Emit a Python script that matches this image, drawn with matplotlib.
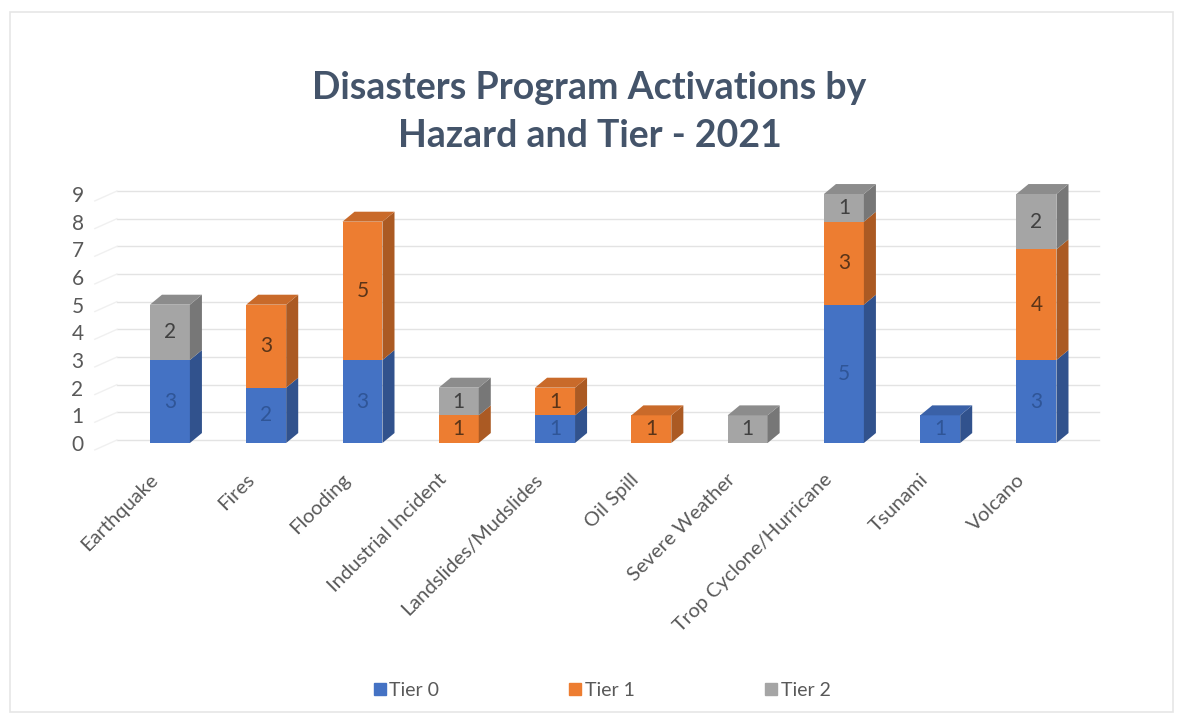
import numpy as np
import matplotlib.pyplot as plt
from matplotlib.patches import Polygon, Rectangle
from matplotlib.lines import Line2D
import matplotlib.transforms as mtransforms
from matplotlib.colors import to_rgb

plt.rcParams['font.family'] = ['Lato', 'DejaVu Sans']

categories = ['Earthquake', 'Fires', 'Flooding', 'Industrial Incident', 'Landslides/Mudslides',
              'Oil Spill', 'Severe Weather', 'Trop Cyclone/Hurricane', 'Tsunami', 'Volcano']
tier0 = [3, 2, 3, 0, 1, 0, 0, 5, 1, 3]
tier1 = [0, 3, 5, 1, 1, 1, 0, 3, 0, 4]
tier2 = [2, 0, 0, 1, 0, 0, 1, 1, 0, 2]
series = [('Tier 0', tier0, '#4472C4', '#2F5597'),
          ('Tier 1', tier1, '#ED7D31', '#5A3418'),
          ('Tier 2', tier2, '#A5A5A5', '#404040')]

def shade(c, f):
    r, g, b = to_rgb(c)
    return (r * f, g * f, b * f)

fig = plt.figure(figsize=(11.79, 7.17), dpi=100)
ax = fig.add_axes([0.0992, 1 - 443 / 717, 0.833, (443 - 194) / 717])

x = np.arange(len(categories))
w = 0.415
ddx, ddy = 0.125, 0.36

for yv in range(0, 10):
    ax.plot([-0.55, 9.65], [yv + ddy * 0.3, yv + ddy * 0.3], color='#E3E3E3', lw=1, zorder=0, clip_on=False)
    ax.plot([-0.78, -0.55], [yv - 0.25, yv + ddy * 0.3], color='#F0F0F0', lw=1, zorder=0, clip_on=False)

bottom = np.zeros(len(categories))
for name, vals, col, lab in series:
    vals = np.array(vals)
    ax.bar(x, vals, w, bottom=bottom, color=col, edgecolor='none', zorder=2)
    for i in range(len(x)):
        if vals[i] == 0:
            continue
        x0, x1 = x[i] - w / 2, x[i] + w / 2
        y0, y1 = bottom[i], bottom[i] + vals[i]
        side = Polygon([(x1, y0), (x1 + ddx, y0 + ddy), (x1 + ddx, y1 + ddy), (x1, y1)],
                       closed=True, facecolor=shade(col, 0.72), edgecolor='none', zorder=2, clip_on=False)
        ax.add_patch(side)
        ax.text(x[i], (y0 + y1) / 2, str(vals[i]), ha='center', va='center',
                fontsize=15, color=lab, zorder=4)
    bottom = bottom + vals

# top faces
bottom_tot = np.array(tier0) + np.array(tier1) + np.array(tier2)
for i in range(len(x)):
    top_col = None
    for name, vals, col, lab in series:
        if vals[i] > 0:
            top_col = col
    x0, x1 = x[i] - w / 2, x[i] + w / 2
    y1 = bottom_tot[i]
    top = Polygon([(x0, y1), (x0 + ddx, y1 + ddy), (x1 + ddx, y1 + ddy), (x1, y1)],
                  closed=True, facecolor=shade(top_col, 0.85), edgecolor='none', zorder=3, clip_on=False)
    ax.add_patch(top)

ax.set_xlim(-0.55, 9.65)
ax.set_ylim(0, 9)
ax.set_yticks(range(0, 10))
ax.set_xticks(x)
ax.set_xticklabels(categories, rotation=45, ha='right', va='top', rotation_mode='anchor')
ax.tick_params(axis='y', length=0, labelsize=15, labelcolor='#595959', pad=24)
ax.tick_params(axis='x', length=0, labelsize=14.5, labelcolor='#595959')
for lbl in ax.get_xticklabels():
    lbl.set_transform(lbl.get_transform() + mtransforms.ScaledTranslation(-0.21, -0.23, fig.dpi_scale_trans))
for s in ax.spines.values():
    s.set_visible(False)
ax.patch.set_alpha(0)

fig.text(0.5, 0.877, 'Disasters Program Activations by', ha='center', va='center',
         fontsize=27, fontweight='bold', color='#44546A')
fig.text(0.5, 0.81, 'Hazard and Tier - 2021', ha='center', va='center',
         fontsize=27, fontweight='bold', color='#44546A')

handles = [Line2D([], [], marker='s', ls='none', color=c, markersize=8) for _, _, c, _ in series]
fig.legend(handles, [s[0] for s in series], loc='center', bbox_to_anchor=(0.51, 0.037), ncol=3,
           frameon=False, fontsize=14, labelcolor='#595959', columnspacing=6.6,
           handletextpad=0.1, handlelength=0.8)

fig.patches.append(Rectangle((10 / 1179, 5 / 717), 1163 / 1179, 700 / 717, transform=fig.transFigure,
                             fill=False, edgecolor='#E6E6E6', lw=1.2))

fig.savefig('out.png', dpi=100)
